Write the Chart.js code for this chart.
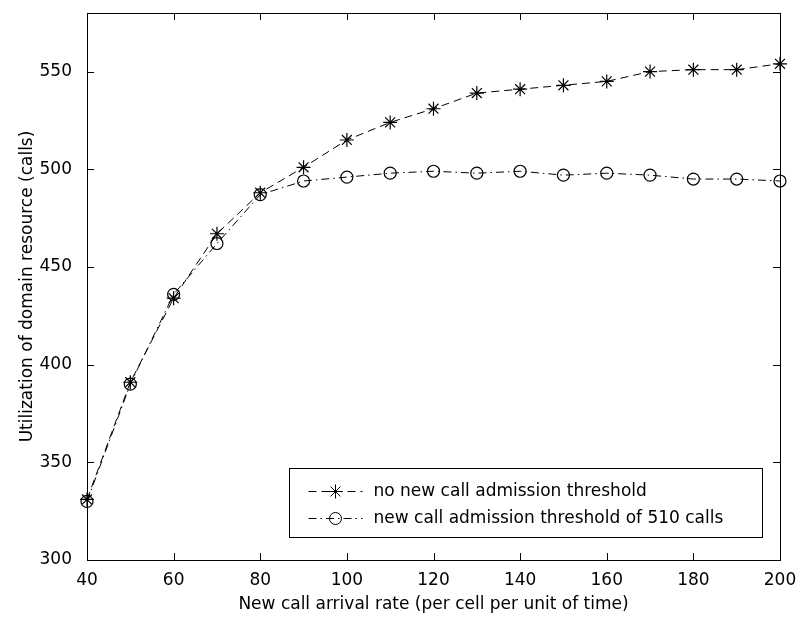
<!DOCTYPE html>
<html>
<head>
<meta charset="utf-8">
<script src="https://cdn.jsdelivr.net/npm/chart.js@4.4.0/dist/chart.umd.min.js"></script>
<style>
  html, body { margin: 0; background: #fff; }
  #wrap { width: 800px; height: 619px; }
</style>
</head>
<body>
<div id="wrap"><canvas id="chart" width="800" height="619"></canvas></div>
<script>
// --- Data ---
const rates = [40, 50, 60, 70, 80, 90, 100, 110, 120, 130, 140, 150, 160, 170, 180, 190, 200];
const noThreshold = [331, 391, 434, 467, 488, 501, 515, 524, 531, 539, 541, 543, 545, 550, 551, 551, 554];
const threshold510 = [330, 390, 436, 462, 487, 494, 496, 498, 499, 498, 499, 497, 498, 497, 495, 495, 494];

const xTicks = [40, 60, 80, 100, 120, 140, 160, 180, 200];
const yTicks = [300, 350, 400, 450, 500, 550];

const FONT = "'DejaVu Sans', sans-serif";

const points = (ys) => rates.map((r, i) => ({ x: r, y: ys[i] }));

// --- MATLAB look: box frame, inward ticks on all sides, boxed legend ---
const matlabFrame = {
  id: "matlabFrame",
  afterDraw(chart) {
    const { ctx, chartArea: a, scales } = chart;
    ctx.save();
    ctx.strokeStyle = "#000";
    ctx.lineWidth = 1;
    ctx.strokeRect(Math.round(a.left) + 0.5, Math.round(a.top) + 0.5,
                   Math.round(a.width), Math.round(a.height));

    const tl = 7;
    ctx.beginPath();
    xTicks.forEach((v) => {
      const px = Math.round(scales.x.getPixelForValue(v)) + 0.5;
      ctx.moveTo(px, a.bottom); ctx.lineTo(px, a.bottom - tl);
      ctx.moveTo(px, a.top); ctx.lineTo(px, a.top + tl);
    });
    yTicks.forEach((v) => {
      const py = Math.round(scales.y.getPixelForValue(v)) + 0.5;
      ctx.moveTo(a.left, py); ctx.lineTo(a.left + tl, py);
      ctx.moveTo(a.right, py); ctx.lineTo(a.right - tl, py);
    });
    ctx.stroke();

    // legend box
    const bx = Math.round(a.right - 491) + 0.5;
    const by = Math.round(a.bottom - 92) + 0.5;
    const bw = 473, bh = 69;
    ctx.fillStyle = "#fff";
    ctx.fillRect(bx, by, bw, bh);
    ctx.strokeRect(bx, by, bw, bh);

    ctx.font = "17px " + FONT;
    ctx.textBaseline = "middle";
    ctx.textAlign = "left";
    chart.data.datasets.forEach((ds, i) => {
      const ry = Math.round(by + 22 + i * 27) + 0.5;
      ctx.save();
      ctx.setLineDash(ds.borderDash || []);
      ctx.beginPath();
      ctx.moveTo(bx + 19, ry);
      ctx.lineTo(bx + 73, ry);
      ctx.stroke();
      ctx.restore();
      ctx.fillStyle = "rgba(0,0,0,0)";
      ctx.strokeStyle = "#000";
      Chart.helpers.drawPoint(ctx, {
        pointStyle: ds.pointStyle,
        radius: ds.pointRadius,
        rotation: 0,
        borderWidth: 1
      }, bx + 46, ry);
      ctx.fillStyle = "#000";
      ctx.fillText(ds.label, bx + 84, ry);
    });
    ctx.restore();
  }
};

new Chart(document.getElementById("chart"), {
  type: "line",
  data: {
    datasets: [
      {
        label: "no new call admission threshold",
        data: points(noThreshold),
        borderColor: "#000",
        borderWidth: 1,
        borderDash: [8, 5],
        pointStyle: "star",
        pointRadius: 7,
        pointBorderColor: "#000",
        pointBackgroundColor: "rgba(0,0,0,0)",
        pointBorderWidth: 1.2,
        tension: 0,
        clip: false
      },
      {
        label: "new call admission threshold of 510 calls",
        data: points(threshold510),
        borderColor: "#000",
        borderWidth: 1,
        borderDash: [8, 4, 1.5, 4],
        pointStyle: "circle",
        pointRadius: 6,
        pointBorderColor: "#000",
        pointBackgroundColor: "rgba(0,0,0,0)",
        pointBorderWidth: 1.2,
        tension: 0,
        clip: false
      }
    ]
  },
  options: {
    responsive: false,
    animation: false,
    layout: { padding: { top: 13, right: 20, left: 0, bottom: 0 } },
    scales: {
      x: {
        type: "linear",
        min: 40,
        max: 200,
        afterBuildTicks: (s) => { s.ticks = xTicks.map((v) => ({ value: v })); },
        afterFit: (s) => { s.height = 59; s.paddingLeft = 0; s.paddingRight = 0; },
        grid: { display: false },
        border: { display: false },
        ticks: { color: "#000", padding: 2, font: { family: FONT, size: 17 } },
        title: {
          display: true,
          text: "New call arrival rate (per cell per unit of time)",
          color: "#000",
          font: { family: FONT, size: 17 },
          padding: { top: 0, bottom: 4 }
        }
      },
      y: {
        type: "linear",
        min: 300,
        max: 580,
        afterBuildTicks: (s) => { s.ticks = yTicks.map((v) => ({ value: v })); },
        afterFit: (s) => { s.width = 87; s.paddingTop = 0; s.paddingBottom = 0; },
        grid: { display: false },
        border: { display: false },
        ticks: { color: "#000", padding: 7, font: { family: FONT, size: 17 } },
        title: {
          display: true,
          text: "Utilization of domain resource (calls)",
          color: "#000",
          font: { family: FONT, size: 17 },
          padding: { top: 17, bottom: 0 }
        }
      }
    },
    plugins: {
      legend: { display: false },
      tooltip: { enabled: false }
    }
  },
  plugins: [matlabFrame]
});
</script>
</body>
</html>
